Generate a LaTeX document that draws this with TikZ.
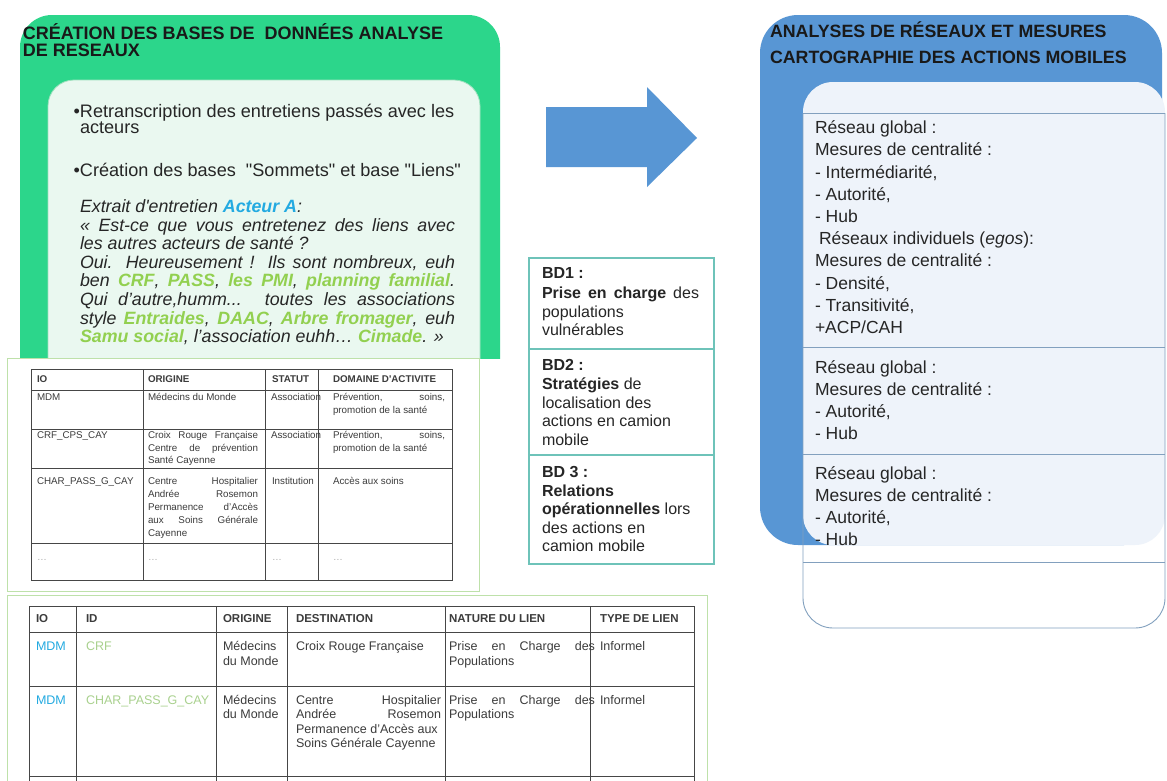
\documentclass[tikz,border=0pt]{standalone}
\usepackage{fontspec}
\setmainfont{Liberation Sans}[Ligatures=TeXOff]
\newcommand\fsz[1]{\fontsize{#1}{#1}\selectfont}
\newcommand\jst[2]{\makebox[#1pt][s]{#2}}
\definecolor{gfill}{RGB}{44,214,139}
\definecolor{mint}{RGB}{234,248,240}
\definecolor{mintline}{RGB}{160,225,190}
\definecolor{frameline}{RGB}{190,225,170}
\definecolor{bluef}{RGB}{88,150,212}
\definecolor{panelfill}{RGB}{238,243,250}
\definecolor{panelline}{RGB}{130,160,190}
\definecolor{bdline}{RGB}{110,195,185}
\definecolor{cyanA}{RGB}{35,170,225}
\definecolor{greenT}{RGB}{146,208,80}
\definecolor{idgreen}{RGB}{169,209,142}
\definecolor{tgray}{RGB}{60,60,60}
\definecolor{tlgray}{RGB}{170,170,170}
\definecolor{tabline}{RGB}{70,70,70}
\definecolor{bodyc}{RGB}{38,38,38}
\definecolor{titlec}{RGB}{25,25,25}
\newcommand\gt[1]{\textcolor{greenT}{\bfseries #1}}
\begin{document}
\begin{tikzpicture}[x=1pt,y=-1pt,
 txt/.style={anchor=base west,inner sep=0pt,outer sep=0pt},
 ttl/.style={txt,font=\fsz{18}\bfseries,text=titlec},
 body/.style={txt,font=\fsz{18.1},text=bodyc},
 quote/.style={txt,font=\fsz{17.8}\itshape,text=bodyc},
 rp/.style={txt,font=\fsz{17.5},text=bodyc},
 bd/.style={txt,font=\fsz{16},text=bodyc},
 ta/.style={txt,font=\fsz{9.8},text=tgray},
 tah/.style={txt,font=\fsz{9.8}\bfseries,text=tgray},
 tb/.style={txt,font=\fsz{12.5},text=tgray},
 tbh/.style={txt,font=\fsz{11.5}\bfseries,text=tgray},
 gridl/.style={draw=tabline,line width=0.9pt},
]
\useasboundingbox (0,0) rectangle (1167,780);
\fill[white] (0,0) rectangle (1167,780);

% ---------- left green panel ----------
\begin{scope}
\clip (0,0) rectangle (1167,358);
\fill[gfill, rounded corners=32] (20,15) rectangle (500,420);
\fill[mint, rounded corners=26] (48,80) rectangle (480,420);
\draw[mintline, line width=0.8pt, rounded corners=26] (48,420) -- (48,80) -- (480,80) -- (480,420);
\end{scope}

\node[ttl] (t1) at (23,39) {CRÉATION DES BASES DE\ \ DONNÉES ANALYSE};
\node[ttl] (t2) at (23,56) {DE RESEAUX};

\node[body] (b1) at (80,117) {\llap{•}Retranscription des entretiens passés avec les};
\node[body] (b1b) at (80,133) {acteurs};
\node[body] (b2) at (80,176) {\llap{•}Création des bases\ \ "Sommets" et base "Liens"};

\node[quote] (q1) at (80,212.5) {Extrait d'entretien \textcolor{cyanA}{\bfseries Acteur A}:};
\node[quote] (q2) at (80,231.1) {\jst{375}{« Est-ce que vous entretenez des liens avec}};
\node[quote] (q3) at (80,249.7) {les autres acteurs de santé ?};
\node[quote] (q4) at (80,268.3) {\jst{375}{Oui. Heureusement ! Ils sont nombreux, euh}};
\node[quote] (q5) at (80,286.9) {\jst{375}{ben \gt{CRF}, \gt{PASS}, \gt{les PMI}, \gt{planning familial}.}};
\node[quote] (q6) at (80,305.5) {\jst{375}{Qui d’autre,humm... toutes les associations}};
\node[quote] (q7) at (80,324.1) {\jst{375}{style \gt{Entraides}, \gt{DAAC}, \gt{Arbre fromager}, euh}};
\node[quote] (q8) at (80,342.7) {\gt{Samu social}, l’association euhh… \gt{Cimade}. »};

% ---------- table 1 ----------
\draw[frameline, line width=0.8pt, fill=white] (7,358) rectangle (479,591);
\draw[gridl] (31,369) rectangle (452,580);
\foreach \y in {390,429,468,543} \draw[gridl] (31,\y) -- (452,\y);
\foreach \x in {143,265,318} \draw[gridl] (\x,369) -- (\x,580);

\node[tah] (h1) at (37,382) {IO};
\node[tah] (h2) at (148,382) {ORIGINE};
\node[tah] (h3) at (272,382) {STATUT};
\node[tah] (h4) at (333,382) {DOMAINE D'ACTIVITE};

\node[ta] (r1a) at (37,400.5) {MDM};
\node[ta] (r1b) at (148,400.5) {Médecins du Monde};
\node[ta] (r1c) at (271,400.5) {Association};
\node[ta] (r1d) at (333,400.5) {\jst{112}{Prévention, soins,}};
\node[ta] (r1e) at (333,413) {promotion de la santé};

\node[ta] (r2a) at (37,438.5) {CRF\_CPS\_CAY};
\node[ta] (r2b) at (148,438.5) {\jst{110}{Croix Rouge Française}};
\node[ta] (r2c) at (148,451.2) {\jst{110}{Centre de prévention}};
\node[ta] (r2d) at (148,463.9) {Santé Cayenne};
\node[ta] (r2e) at (271,438.5) {Association};
\node[ta] (r2f) at (333,438.5) {\jst{112}{Prévention, soins,}};
\node[ta] (r2g) at (333,451.2) {promotion de la santé};

\node[ta] (r3a) at (37,484) {CHAR\_PASS\_G\_CAY};
\node[ta] (r3b) at (148,484) {\jst{110}{Centre Hospitalier}};
\node[ta] (r3c) at (148,497) {\jst{110}{Andrée Rosemon}};
\node[ta] (r3d) at (148,510) {\jst{110}{Permanence d’Accès}};
\node[ta] (r3e) at (148,523) {\jst{110}{aux Soins Générale}};
\node[ta] (r3f) at (148,536) {Cayenne};
\node[ta] (r3g) at (272,484) {Institution};
\node[ta] (r3h) at (333,484) {Accès aux soins};

\node[ta,text=tlgray] (r4a) at (37,560) {…};
\node[ta,text=tlgray] (r4b) at (148,560) {…};
\node[ta,text=tlgray] (r4c) at (272,560) {…};
\node[ta,text=tlgray] (r4d) at (333,560) {…};

% ---------- table 2 ----------
\draw[frameline, line width=0.8pt, fill=white] (7,595) rectangle (707,800);
\foreach \y in {606,632,686,776} \draw[gridl] (29,\y) -- (694,\y);
\foreach \x in {29,76,216,287,445,590,694} \draw[gridl] (\x,606) -- (\x,790);

\node[tbh] (k1) at (36,622) {IO};
\node[tbh] (k2) at (86,622) {ID};
\node[tbh] (k3) at (223,622) {ORIGINE};
\node[tbh] (k4) at (296,622) {DESTINATION};
\node[tbh] (k5) at (449,622) {NATURE DU LIEN};
\node[tbh] (k6) at (600,622) {TYPE DE LIEN};

\node[tb,text=cyanA] (s1a) at (36,650.5) {MDM};
\node[tb,text=idgreen] (s1b) at (86,650.5) {CRF};
\node[tb] (s1c) at (223,650.5) {Médecins};
\node[tb] (s1d) at (223,665) {du Monde};
\node[tb] (s1e) at (296,650.5) {Croix Rouge Française};
\node[tb] (s1f) at (449,650.5) {\jst{146}{Prise en Charge des}};
\node[tb] (s1g) at (449,665) {Populations};
\node[tb] (s1h) at (600,650.5) {Informel};

\node[tb,text=cyanA] (s2a) at (36,704) {MDM};
\node[tb,text=idgreen] (s2b) at (86,704) {CHAR\_PASS\_G\_CAY};
\node[tb] (s2c) at (223,704) {Médecins};
\node[tb] (s2d) at (223,718.5) {du Monde};
\node[tb] (s2e) at (296,704) {\jst{145}{Centre Hospitalier}};
\node[tb] (s2f) at (296,718.5) {\jst{145}{Andrée Rosemon}};
\node[tb] (s2g) at (296,733) {Permanence d’Accès aux};
\node[tb] (s2h) at (296,747.5) {Soins Générale Cayenne};
\node[tb] (s2i) at (449,704) {\jst{146}{Prise en Charge des}};
\node[tb] (s2j) at (449,718.5) {Populations};
\node[tb] (s2k) at (600,704) {Informel};

% ---------- BD box ----------
\draw[bdline, line width=1.1pt] (529,258) rectangle (714,564);
\draw[bdline, line width=1.1pt] (529,349) -- (714,349);
\draw[bdline, line width=1.1pt] (529,455) -- (714,455);

\node[bd,font=\fsz{16}\bfseries] (d1) at (542,278.5) {BD1 :};
\node[bd] (d2) at (542,298) {\jst{157}{\bfseries Prise en charge \mdseries des}};
\node[bd] (d3) at (542,317) {populations};
\node[bd] (d4) at (542,335.5) {vulnérables};
\node[bd,font=\fsz{16}\bfseries] (d5) at (542,370.5) {BD2 :};
\node[bd] (d6) at (542,389.5) {\textbf{Stratégies} de};
\node[bd] (d7) at (542,408) {localisation des};
\node[bd] (d8) at (542,426.5) {actions en camion};
\node[bd] (d9) at (542,445) {mobile};
\node[bd,font=\fsz{16}\bfseries] (d10) at (542,477.5) {BD 3 :};
\node[bd] (d11) at (542,496.5) {\textbf{Relations}};
\node[bd] (d12) at (542,514.5) {\textbf{opérationnelles} lors};
\node[bd] (d13) at (542,533) {des actions en};
\node[bd] (d14) at (542,551.5) {camion mobile};

% ---------- arrow ----------
\fill[bluef] (546,107) -- (647,107) -- (647,87) -- (697,138) -- (647,187) -- (647,167) -- (546,167) -- cycle;

% ---------- right panel ----------
\fill[bluef, rounded corners=38] (760,15) rectangle (1162,545);
\fill[panelfill, rounded corners=30] (803,82) rectangle (1165,545);
\draw[panelline, line width=0.9pt, rounded corners=30] (803,113) -- (803,628) -- (1165,628) -- (1165,113);
\foreach \y in {113,347,454,562} \draw[panelline, line width=0.9pt] (803,\y) -- (1165,\y);

\node[ttl,font=\fsz{17.8}\bfseries] (rt1) at (770,37.5) {ANALYSES DE RÉSEAUX ET MESURES};
\node[ttl,font=\fsz{17.8}\bfseries] (rt2) at (770,63.5) {CARTOGRAPHIE DES ACTIONS MOBILES};

\node[rp] (p1) at (815,133.6) {Réseau global :};
\node[rp] (p2) at (815,155.8) {Mesures de centralité :};
\node[rp] (p3) at (815,178.0) {- Intermédiarité,};
\node[rp] (p4) at (815,200.2) {- Autorité,};
\node[rp] (p5) at (815,222.4) {- Hub};
\node[rp] (p6) at (819,244.6) {Réseaux individuels (\textit{egos}):};
\node[rp] (p7) at (815,266.8) {Mesures de centralité :};
\node[rp] (p8) at (815,289.0) {- Densité,};
\node[rp] (p9) at (815,311.2) {- Transitivité,};
\node[rp] (p10) at (815,333.4) {+ACP/CAH};

\node[rp] (p11) at (815,373.6) {Réseau global :};
\node[rp] (p12) at (815,395.5) {Mesures de centralité :};
\node[rp] (p13) at (815,417.4) {- Autorité,};
\node[rp] (p14) at (815,439.3) {- Hub};

\node[rp] (p15) at (815,479.6) {Réseau global :};
\node[rp] (p16) at (815,501.5) {Mesures de centralité :};
\node[rp] (p17) at (815,523.4) {- Autorité,};
\node[rp] (p18) at (815,545.3) {- Hub};
\end{tikzpicture}
\end{document}
